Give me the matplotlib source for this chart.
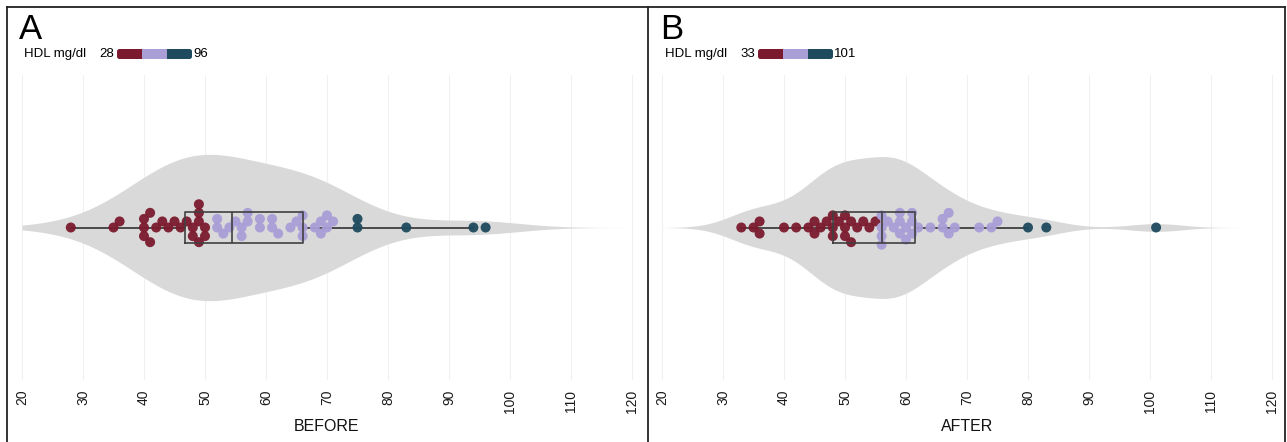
import numpy as np
import matplotlib
matplotlib.use("Agg")
import matplotlib.pyplot as plt
from matplotlib.lines import Line2D
from matplotlib.patches import Rectangle, FancyBboxPatch

plt.rcParams['font.family'] = ['Liberation Sans', 'DejaVu Sans']

# ---------------- data ----------------
before_values = [28, 35, 36, 40, 40, 40, 41, 41, 42, 43, 44, 45, 46, 47, 48, 48,
                 49, 49, 49, 49, 50, 50,
                 52, 52, 53, 54, 55, 56, 56, 57, 57, 59, 59, 61, 61, 62, 64, 65,
                 66, 66, 66, 68, 69, 69, 70, 70, 71,
                 75, 75, 83, 94, 96]
after_values = [33, 35, 36, 36, 40, 42, 44, 45, 45, 46, 47, 48, 48, 48, 49, 50,
                50, 50, 51, 51, 52, 53, 54, 55,
                56, 56, 56, 56, 57, 58, 59, 59, 59, 60, 60, 61, 61, 61, 62, 64,
                66, 66, 67, 67, 68, 72, 74, 75,
                80, 83, 101]
panel_letters = ["A", "B"]
panel_xlabels = ["BEFORE", "AFTER"]
legend_title = "HDL mg/dl"
x_ticks = [20, 30, 40, 50, 60, 70, 80, 90, 100, 110, 120]
bandwidths = [7.0, 4.3]

# ---------------- style ----------------
COL_LOW = "#7B1A2E"
COL_MID = "#A99ED6"
COL_HIGH = "#1E4B5E"
VIOLIN = "#D9D9D9"
W, H = 1287, 442
DPI = 100

fig = plt.figure(figsize=(W / DPI, H / DPI), dpi=DPI)

PX_PER_UNIT = 6.1
AX_TOP, AX_BOT = 75, 380
Y_PX_PER_UNIT = (AX_BOT - AX_TOP) / 2.0


def fx(px):
    return px / W


def fy(py):
    return 1 - py / H


def swarm(vals, spacing=8.6):
    vals = np.asarray(vals, float)
    order = np.argsort(vals, kind="stable")
    placed = []
    offs = np.zeros(len(vals))
    for i in order:
        x = vals[i] * PX_PER_UNIT
        cands = [0.0]
        for px, py in placed:
            dx = x - px
            if abs(dx) < spacing:
                dy = np.sqrt(spacing ** 2 - dx ** 2)
                cands += [py + dy, py - dy]
        cands = sorted(set(cands), key=lambda c: (abs(c), -c))
        chosen = 0.0
        for c in cands:
            ok = all((x - px) ** 2 + (c - py) ** 2 >= spacing ** 2 - 1e-6 for px, py in placed)
            if ok:
                chosen = c
                break
        placed.append((x, chosen))
        offs[i] = chosen
    return offs / Y_PX_PER_UNIT


def kde(vals, grid, bw):
    vals = np.asarray(vals, float)
    z = (grid[:, None] - vals[None, :]) / bw
    return np.exp(-0.5 * z ** 2).sum(axis=1) / (len(vals) * bw * np.sqrt(2 * np.pi))


panels = [
    dict(values=before_values, left_px=22, border=(7, 648), max_half=0.48),
    dict(values=after_values, left_px=662, border=(648, 1285), max_half=0.465),
]

for k, p in enumerate(panels):
    vals = np.asarray(p["values"], float)
    vmin, vmax = vals.min(), vals.max()
    ax_left = p["left_px"] - 0.5 * PX_PER_UNIT
    ax_w = 101 * PX_PER_UNIT
    ax = fig.add_axes([fx(ax_left), fy(AX_BOT), ax_w / W, (AX_BOT - AX_TOP) / H])
    ax.set_xlim(19.5, 120.5)
    ax.set_ylim(-1, 1)
    for s in ax.spines.values():
        s.set_visible(False)
    ax.set_yticks([])
    ax.set_xticks(x_ticks)
    ax.set_xticklabels([str(t) for t in x_ticks], rotation=90, fontsize=10, color="#1a1a1a")
    ax.tick_params(axis="x", length=0, pad=7)
    ax.grid(axis="x", color="#F0F0F0", linewidth=0.8)
    ax.set_axisbelow(True)
    ax.set_xlabel(panel_xlabels[k], fontsize=11.5, labelpad=4, color="#111111")

    # violin
    grid = np.linspace(20, 120, 600)
    dens = kde(vals, grid, bandwidths[k])
    half = dens / dens.max() * p["max_half"]
    ax.fill_between(grid, -half, half, color=VIOLIN, linewidth=0, zorder=1)

    # colors by thirds of the range
    t1 = vmin + (vmax - vmin) / 3
    t2 = vmin + 2 * (vmax - vmin) / 3
    cols = [COL_LOW if v <= t1 else (COL_MID if v <= t2 else COL_HIGH) for v in vals]

    # boxplot
    bp = ax.boxplot(vals, vert=False, positions=[0], widths=0.2, whis=1.5,
                    showfliers=False, patch_artist=False, manage_ticks=False)
    for w in bp["whiskers"]:
        w.set(color="#4a4a4a", linewidth=1.4, zorder=2)
    for c in bp["caps"]:
        c.set_visible(False)
    for b in bp["boxes"]:
        b.set(color="#404040", linewidth=1.2, zorder=4)
    for m in bp["medians"]:
        m.set(color="#404040", linewidth=1.2, zorder=4)

    # points
    offs = swarm(vals)
    ax.scatter(vals, offs, s=52, c=cols, linewidths=0, zorder=3, alpha=0.95)

    # panel letter
    fig.text(fx(p["border"][0] + 12), fy(39), panel_letters[k], fontsize=25,
             ha="left", va="baseline", color="#000000")

    # legend
    bx0 = p["border"][0] + 17
    fig.text(fx(bx0), fy(54), legend_title, fontsize=9.5, ha="left", va="center")
    lo_x = bx0 + 75
    fig.text(fx(lo_x), fy(54), f"{vmin:.0f}", fontsize=9.5, ha="left", va="center")
    bar_x = lo_x + 18
    bar_w = 75
    seg = bar_w / 3
    bar_h = 10
    r = 2.5
    for j, col in enumerate([COL_LOW, COL_MID, COL_HIGH]):
        x0 = bar_x + j * seg
        if j == 1:
            patch = Rectangle((x0 / DPI, (H - 54 - bar_h / 2) / DPI), seg / DPI, bar_h / DPI,
                              transform=fig.dpi_scale_trans, color=col, linewidth=0)
        else:
            patch = FancyBboxPatch((x0 / DPI, (H - 54 - bar_h / 2) / DPI), seg / DPI, bar_h / DPI,
                                   boxstyle=f"round,pad=0,rounding_size={r / DPI}",
                                   transform=fig.dpi_scale_trans, color=col, linewidth=0)
            fig.add_artist(patch)
            # square off the inner side
            inner_x = x0 + seg / 2 if j == 0 else x0
            patch = Rectangle((inner_x / DPI, (H - 54 - bar_h / 2) / DPI), seg / 2 / DPI, bar_h / DPI,
                              transform=fig.dpi_scale_trans, color=col, linewidth=0)
        fig.add_artist(patch)
    fig.text(fx(bar_x + bar_w + 1), fy(54), f"{vmax:.0f}", fontsize=9.5, ha="left", va="center")

# panel borders
lw = 1.3
for xb in [7, 648, 1285]:
    fig.add_artist(Line2D([fx(xb), fx(xb)], [fy(7), 0], transform=fig.transFigure,
                          color="#222222", linewidth=lw))
fig.add_artist(Line2D([fx(7), fx(1285)], [fy(7), fy(7)], transform=fig.transFigure,
                      color="#222222", linewidth=lw))

fig.savefig("out.png", dpi=DPI, facecolor="white")
